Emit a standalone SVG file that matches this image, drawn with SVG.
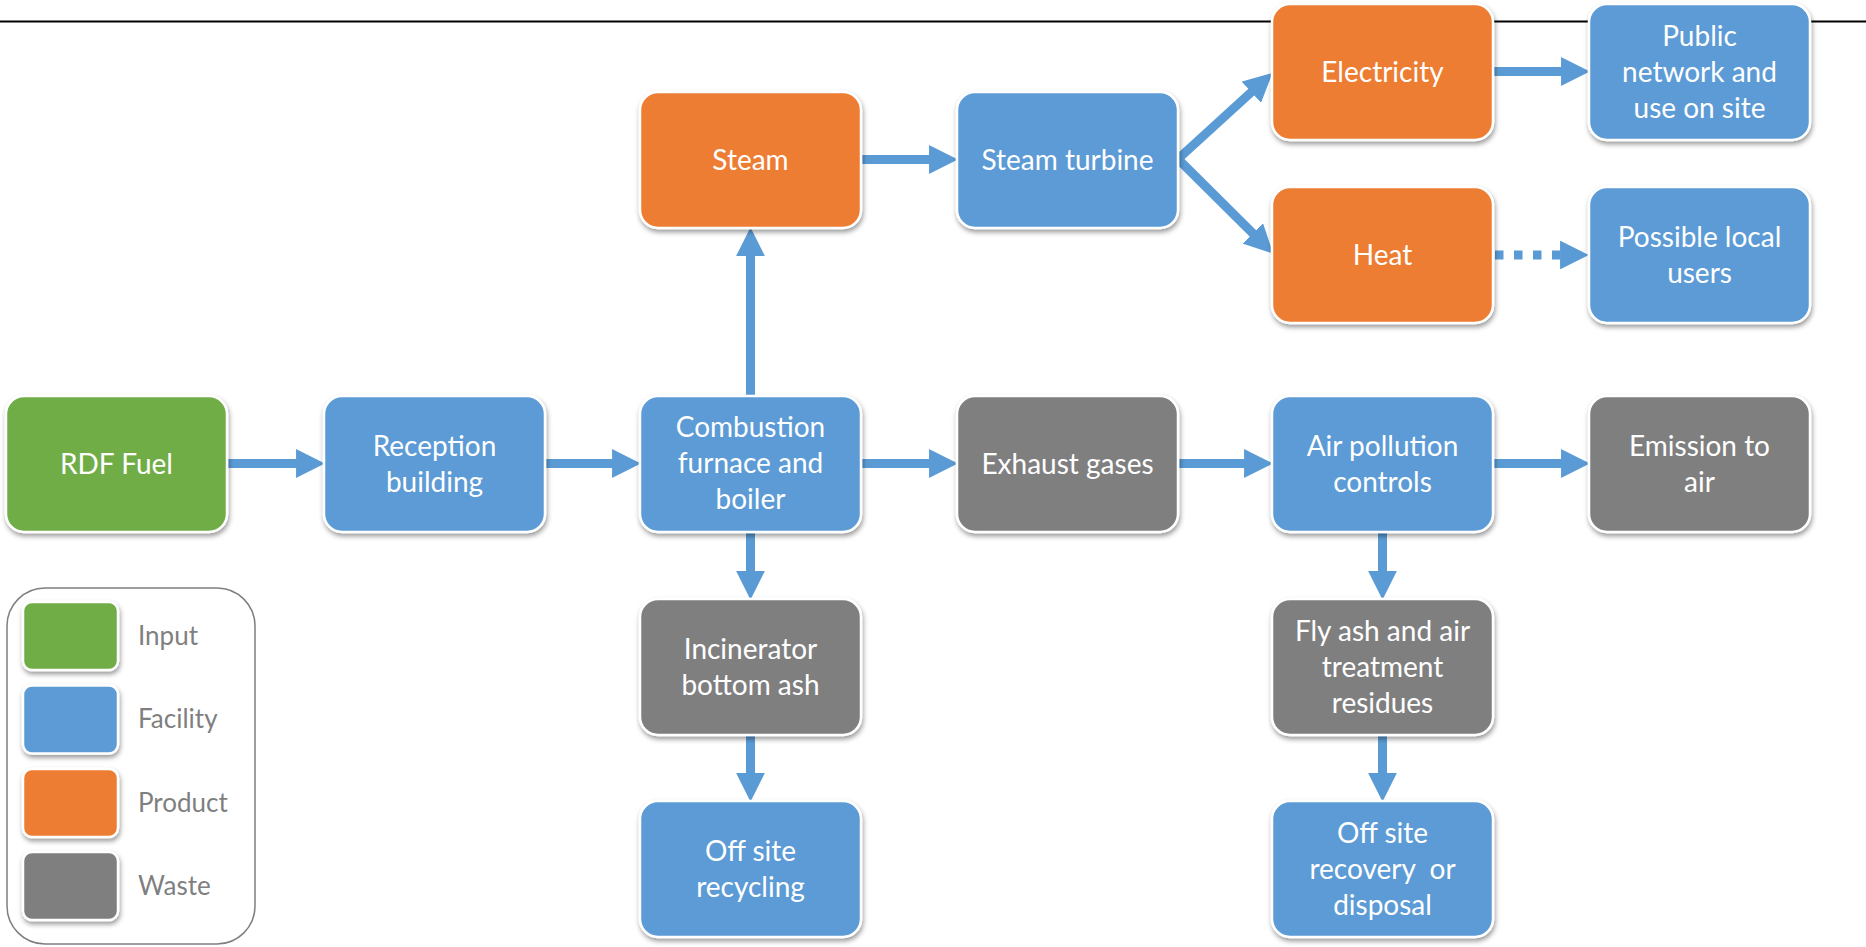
<svg xmlns="http://www.w3.org/2000/svg" width="1866" height="947" viewBox="0 0 1866 947">
<defs>
<filter id="sh" x="-10%" y="-10%" width="125%" height="130%">
<feDropShadow dx="1" dy="3" stdDeviation="2.5" flood-color="#000" flood-opacity="0.4"/>
</filter>
<marker id="ah" markerUnits="strokeWidth" markerWidth="3.2" markerHeight="3.2" viewBox="0 0 3 3" refX="0.1" refY="1.5" orient="auto">
<path d="M0,0 L3,1.5 L0,3 z" fill="#5b9bd5"/>
</marker>
<style>
.n{stroke:#fff;stroke-width:2.5;filter:url(#sh)}
.g{fill:#70ad47}.b{fill:#5b9bd5}.o{fill:#ed7d31}.k{fill:#7f7f7f}
.t{font-family:Lato,"Open Sans","Liberation Sans",sans-serif;font-size:28px;fill:#fff;text-anchor:middle;white-space:pre}
.l{font-family:Lato,"Open Sans","Liberation Sans",sans-serif;font-size:26px;fill:#7f7f7f}
.c{fill:none;stroke:#5b9bd5;stroke-width:9;marker-end:url(#ah)}
.d{stroke-dasharray:8.5 10.5}
</style>
</defs>
<rect width="1866" height="947" fill="#fff"/>
<line x1="0" y1="21.5" x2="1866" y2="21.5" stroke="#000" stroke-width="2"/>

<g id="connectors">
<path class="c" d="M228,463.5 H297"/>
<path class="c" d="M545,463.5 H613"/>
<path class="c" d="M861,463.5 H930"/>
<path class="c" d="M1178,463.5 H1245"/>
<path class="c" d="M1494,463.5 H1562"/>
<path class="c" d="M750.5,396 V255"/>
<path class="c" d="M861,159.5 H930"/>
<path class="c" d="M1178,159 L1252,91.5"/>
<path class="c" d="M1178,159 L1253.5,234"/>
<path class="c" d="M1494,71.5 H1562"/>
<path class="c d" d="M1495,255 H1561"/>
<path class="c" d="M750.5,533 V572"/>
<path class="c" d="M750.5,735 V774"/>
<path class="c" d="M1382.5,533 V572"/>
<path class="c" d="M1382.5,735 V774"/>
</g>

<g id="rdf"><rect class="n g" x="6" y="396" width="221" height="136" rx="18"/><text class="t" x="116.5" y="474">RDF Fuel</text></g>
<g id="reception"><rect class="n b" x="324" y="396" width="221" height="136" rx="18"/><text class="t" x="434.5" y="456">Reception</text><text class="t" x="434.5" y="492">building</text></g>
<g id="combustion"><rect class="n b" x="640" y="396" width="221" height="136" rx="18"/><text class="t" x="750.5" y="437">Combustion</text><text class="t" x="750.5" y="473">furnace and</text><text class="t" x="750.5" y="509">boiler</text></g>
<g id="exhaust"><rect class="n k" x="957" y="396" width="221" height="136" rx="18"/><text class="t" x="1067.5" y="474">Exhaust gases</text></g>
<g id="apc"><rect class="n b" x="1272" y="396" width="221" height="136" rx="18"/><text class="t" x="1382.5" y="456">Air pollution</text><text class="t" x="1382.5" y="492">controls</text></g>
<g id="emission"><rect class="n k" x="1589" y="396" width="221" height="136" rx="18"/><text class="t" x="1699.5" y="456">Emission to</text><text class="t" x="1699.5" y="492">air</text></g>
<g id="steam"><rect class="n o" x="640" y="92" width="221" height="136" rx="18"/><text class="t" x="750.5" y="170">Steam</text></g>
<g id="turbine"><rect class="n b" x="957" y="92" width="221" height="136" rx="18"/><text class="t" x="1067.5" y="170">Steam turbine</text></g>
<g id="electricity"><rect class="n o" x="1272" y="4" width="221" height="136" rx="18"/><text class="t" x="1382.5" y="82">Electricity</text></g>
<g id="public"><rect class="n b" x="1589" y="4" width="221" height="136" rx="18"/><text class="t" x="1699.5" y="46">Public</text><text class="t" x="1699.5" y="82">network and</text><text class="t" x="1699.5" y="118">use on site</text></g>
<g id="heat"><rect class="n o" x="1272" y="187" width="221" height="136" rx="18"/><text class="t" x="1382.5" y="265">Heat</text></g>
<g id="local"><rect class="n b" x="1589" y="187" width="221" height="136" rx="18"/><text class="t" x="1699.5" y="247">Possible local</text><text class="t" x="1699.5" y="283">users</text></g>
<g id="bottomash"><rect class="n k" x="640" y="599" width="221" height="136" rx="18"/><text class="t" x="750.5" y="659">Incinerator</text><text class="t" x="750.5" y="695">bottom ash</text></g>
<g id="recycling"><rect class="n b" x="640" y="801" width="221" height="136" rx="18"/><text class="t" x="750.5" y="861">Off site</text><text class="t" x="750.5" y="897">recycling</text></g>
<g id="flyash"><rect class="n k" x="1272" y="599" width="221" height="136" rx="18"/><text class="t" x="1382.5" y="641">Fly ash and air</text><text class="t" x="1382.5" y="677">treatment</text><text class="t" x="1382.5" y="713">residues</text></g>
<g id="recovery"><rect class="n b" x="1272" y="801" width="221" height="136" rx="18"/><text class="t" x="1382.5" y="843">Off site</text><text class="t" x="1382.5" y="879">recovery  or</text><text class="t" x="1382.5" y="915">disposal</text></g>

<g id="legend">
<rect x="7" y="588" width="248" height="356" rx="38" fill="none" stroke="#7f7f7f" stroke-width="1.5"/>
<rect class="n g" x="23" y="602" width="95" height="68" rx="9"/>
<rect class="n b" x="23" y="685.5" width="95" height="68" rx="9"/>
<rect class="n o" x="23" y="769" width="95" height="68" rx="9"/>
<rect class="n k" x="23" y="852" width="95" height="68" rx="9"/>
<text class="l" x="138" y="645">Input</text>
<text class="l" x="138" y="728">Facility</text>
<text class="l" x="138" y="812">Product</text>
<text class="l" x="138" y="895">Waste</text>
</g>
</svg>
